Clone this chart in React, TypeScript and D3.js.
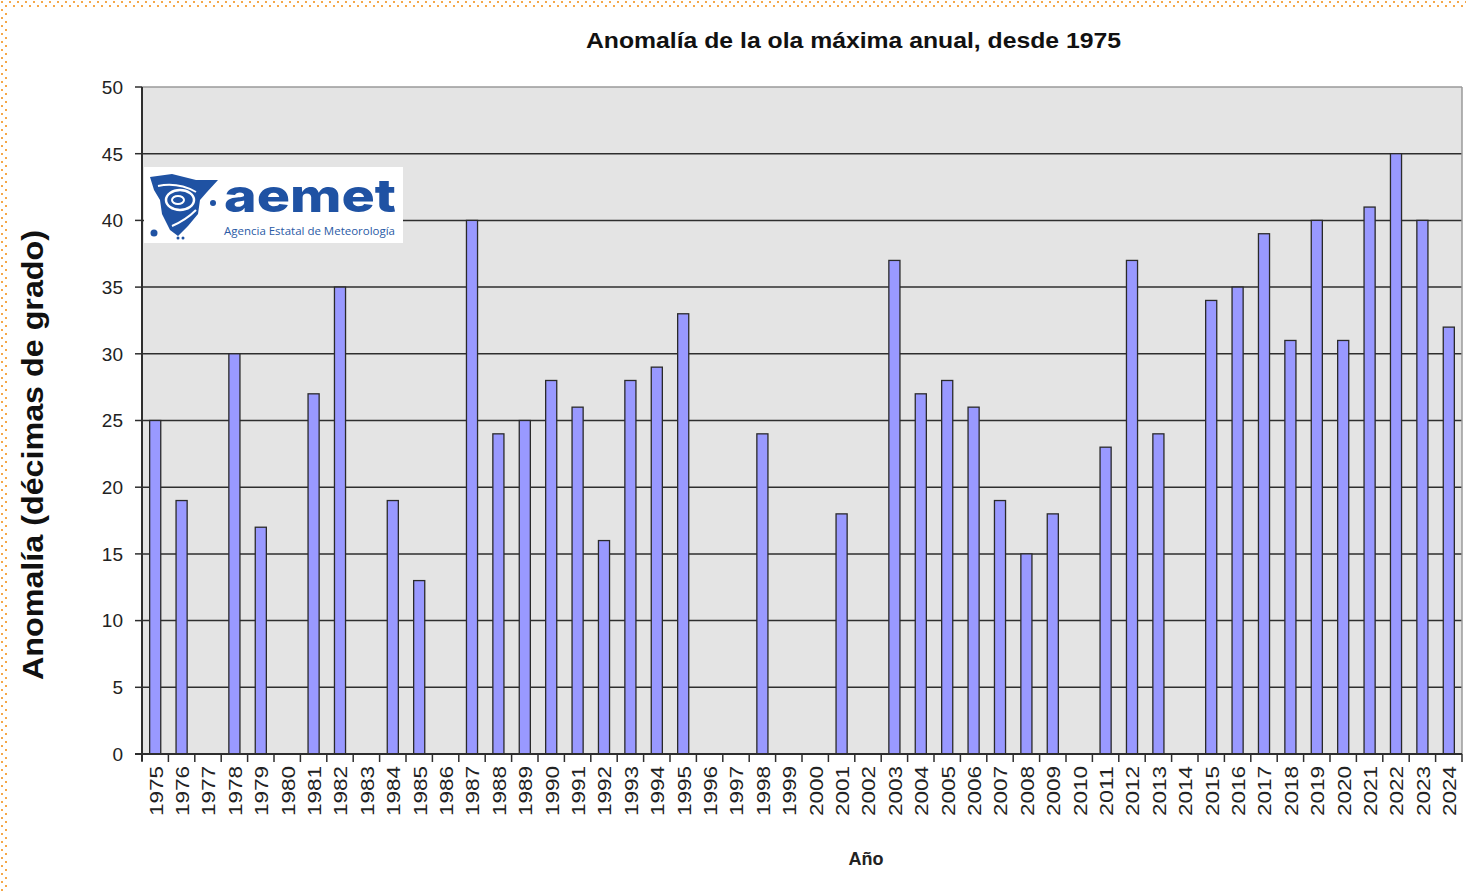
import React from "react";
import * as d3 from "d3";

const years: string[] = d3.range(1975, 2025).map(String);
const anomalies: number[] = [
  25, 19, 0, 30, 17, 0, 27, 35, 0, 19,
  13, 0, 40, 24, 25, 28, 26, 16, 28, 29,
  33, 0, 0, 24, 0, 0, 18, 0, 37, 27,
  28, 26, 19, 15, 18, 0, 23, 37, 24, 0,
  34, 35, 39, 31, 40, 31, 41, 45, 40, 32,
];
const yTicks: number[] = [0, 5, 10, 15, 20, 25, 30, 35, 40, 45, 50];
const titleText = "Anomalía de la ola máxima anual, desde 1975";
const yTitle = "Anomalía (décimas de grado)";
const xTitle = "Año";

const W = 1466;
const H = 891;
const L = 142, R = 1462, T = 87, B = 754;
const FONT = "'Liberation Sans', Arial, sans-serif";

export default function App() {
  const x = d3.scaleBand<string>().domain(years).range([L, R]).padding(0);
  const y = d3.scaleLinear().domain([0, 50]).range([B, T]);
  const bw = x.bandwidth() * 0.42;
  const data = years.map((yr, i) => ({ yr, v: anomalies[i] }));
  const bounds = [...years.map((yr) => x(yr) as number), R];

  return (
    <svg width={W} height={H} style={{ position: "absolute", left: 0, top: 0, background: "#fff" }}>
      <defs>
        <pattern id="dots" width="8" height="8" patternUnits="userSpaceOnUse">
          <rect x="1" y="1" width="2" height="2" fill="#f5a84a" />
          <rect x="5" y="5" width="2" height="2" fill="#f5a84a" />
        </pattern>
      </defs>
      <rect x={0} y={0} width={W} height={8} fill="url(#dots)" />
      <rect x={0} y={0} width={8} height={H} fill="url(#dots)" />

      {/* plot background */}
      <rect x={L} y={T} width={R - L} height={B - T} fill="#e4e4e4" />

      {/* gridlines */}
      {yTicks.filter((t) => t > 0 && t < 50).map((t) => (
        <line key={t} x1={L} x2={R} y1={y(t)} y2={y(t)} stroke="#2e2e2e" strokeWidth={1.5} />
      ))}
      <line x1={L} x2={R} y1={y(50)} y2={y(50)} stroke="#9a9a9a" strokeWidth={1.5} />
      <line x1={R} x2={R} y1={T} y2={B} stroke="#9a9a9a" strokeWidth={1.5} />

      {/* bars */}
      {data.filter((d) => d.v > 0).map((d) => {
        const cx = (x(d.yr) as number) + x.bandwidth() / 2;
        return (
          <rect key={d.yr} x={cx - bw / 2} y={y(d.v)} width={bw} height={B - y(d.v)}
            fill="#9999ff" stroke="#2a2a2a" strokeWidth={1.3} />
        );
      })}

      {/* axes */}
      <line x1={L} x2={L} y1={T} y2={B + 7} stroke="#2e2e2e" strokeWidth={2} />
      <line x1={L - 7} x2={R} y1={B} y2={B} stroke="#2e2e2e" strokeWidth={2} />
      {yTicks.map((t) => (
        <g key={t}>
          <line x1={L - 7} x2={L} y1={y(t)} y2={y(t)} stroke="#2e2e2e" strokeWidth={1.5} />
          <text x={123} y={y(t)} dy="0.36em" textAnchor="end" fontFamily={FONT} fontSize={19} fill="#222">{t}</text>
        </g>
      ))}
      {bounds.map((bx, i) => (
        <line key={i} x1={bx} x2={bx} y1={B} y2={B + 8} stroke="#2e2e2e" strokeWidth={1.5} />
      ))}
      {years.map((yr) => {
        const cx = (x(yr) as number) + x.bandwidth() / 2;
        return (
          <text key={yr} transform={`translate(${cx + 1},${766}) rotate(-90)`} dy="0.36em" textAnchor="end"
            fontFamily={FONT} fontSize={18} fill="#222" textLength={50} lengthAdjust="spacingAndGlyphs">{yr}</text>
        );
      })}

      {/* titles */}
      <text x={586} y={48} fontFamily={FONT} fontSize={22} fontWeight="bold" fill="#111"
        textLength={535} lengthAdjust="spacingAndGlyphs">{titleText}</text>
      <text transform={`translate(43,455) rotate(-90)`} textAnchor="middle" fontFamily={FONT} fontSize={30}
        fontWeight="bold" fill="#111" textLength={450} lengthAdjust="spacingAndGlyphs">{yTitle}</text>
      <text x={866} y={865} textAnchor="middle" fontFamily={FONT} fontSize={18} fontWeight="bold" fill="#222">{xTitle}</text>

      {/* logo */}
      <g>
        <rect x={144} y={167} width={259} height={76} fill="#fff" />
        <path d="M150,177 L172,174 L196,180 L218,180 L207,192 L200,200 L198,214 L188,226 L178,236 L170,230 L162,214 L160,200 L154,190 Z"
          fill="#1f52a3" />
        <ellipse cx={180} cy={200} rx={14} ry={10} fill="none" stroke="#fff" strokeWidth={2.5} />
        <ellipse cx={178} cy={200} rx={6} ry={4} fill="none" stroke="#fff" strokeWidth={2} />
        <path d="M158,186 Q178,182 196,192" fill="none" stroke="#fff" strokeWidth={2} />
        <path d="M172,226 Q186,220 196,210" fill="none" stroke="#fff" strokeWidth={2} />
        <circle cx={213} cy={203} r={3} fill="#1f52a3" />
        <circle cx={154} cy={233} r={3.5} fill="#1f52a3" />
        <circle cx={178} cy={238} r={1.5} fill="#1f52a3" />
        <circle cx={183} cy={238} r={1.5} fill="#1f52a3" />
        <text x={224} y={212} fontFamily="Inter, 'Open Sans', sans-serif" fontSize={46} fontWeight={800}
          fill="#1f52a3" textLength={172} lengthAdjust="spacingAndGlyphs">aemet</text>
        <text x={224} y={235} fontFamily="'Open Sans', sans-serif" fontSize={11.5} fill="#2a5aa5"
          textLength={171} lengthAdjust="spacingAndGlyphs">Agencia Estatal de Meteorología</text>
      </g>
    </svg>
  );
}
